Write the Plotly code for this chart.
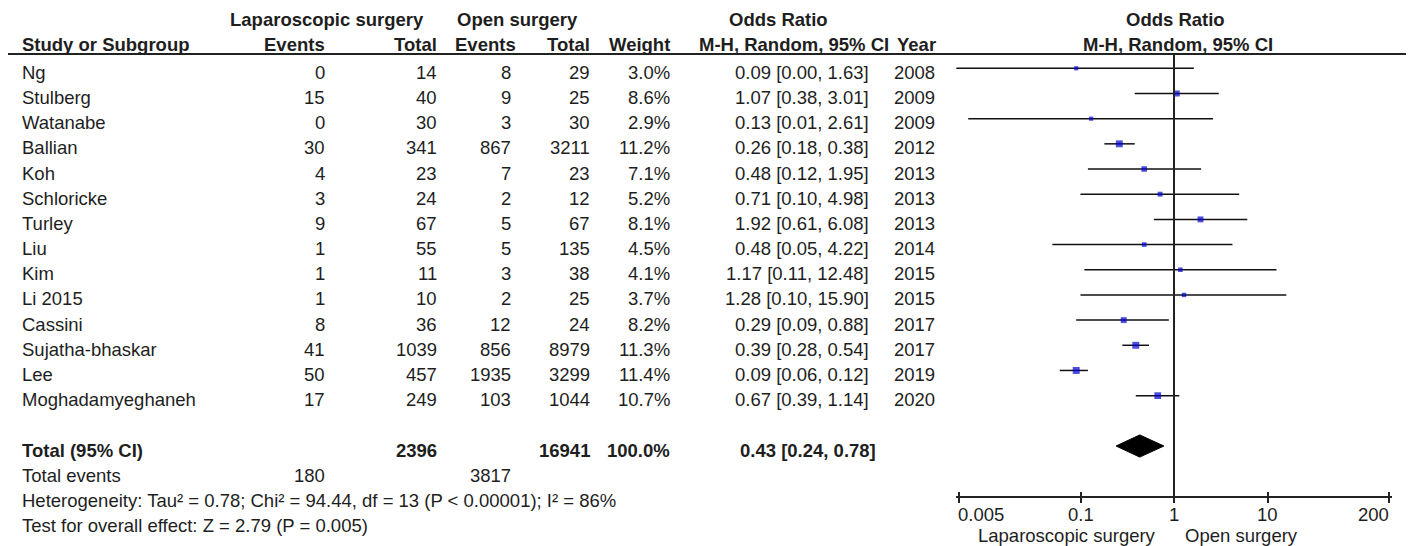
import math
import plotly.graph_objects as go

# ---------------- data ----------------
studies = ["Ng", "Stulberg", "Watanabe", "Ballian", "Koh", "Schloricke", "Turley", "Liu",
           "Kim", "Li 2015", "Cassini", "Sujatha-bhaskar", "Lee", "Moghadamyeghaneh"]
lap_events = [0, 15, 0, 30, 4, 3, 9, 1, 1, 1, 8, 41, 50, 17]
lap_total = [14, 40, 30, 341, 23, 24, 67, 55, 11, 10, 36, 1039, 457, 249]
open_events = [8, 9, 3, 867, 7, 2, 5, 5, 3, 2, 12, 856, 1935, 103]
open_total = [29, 25, 30, 3211, 23, 12, 67, 135, 38, 25, 24, 8979, 3299, 1044]
weight = [3.0, 8.6, 2.9, 11.2, 7.1, 5.2, 8.1, 4.5, 4.1, 3.7, 8.2, 11.3, 11.4, 10.7]
or_est = [0.09, 1.07, 0.13, 0.26, 0.48, 0.71, 1.92, 0.48, 1.17, 1.28, 0.29, 0.39, 0.09, 0.67]
ci_low = [0.0047, 0.38, 0.0063, 0.18, 0.12, 0.10, 0.61, 0.05, 0.11, 0.10, 0.09, 0.28, 0.06, 0.39]
ci_high = [1.63, 3.01, 2.61, 0.38, 1.95, 4.98, 6.08, 4.22, 12.48, 15.90, 0.88, 0.54, 0.12, 1.14]
years = [2008, 2009, 2009, 2012, 2013, 2013, 2013, 2014, 2015, 2015, 2017, 2017, 2019, 2020]

total_lap_total = 2396
total_open_total = 16941
total_weight = 100.0
total_or = 0.43
total_low = 0.24
total_high = 0.78
total_lap_events = 180
total_open_events = 3817
heterogeneity_text = "Heterogeneity: Tau² = 0.78; Chi² = 94.44, df = 13 (P < 0.00001); I² = 86%"
overall_text = "Test for overall effect: Z = 2.79 (P = 0.005)"

tick_vals = [0.005, 0.1, 1, 10, 200]
tick_text = ["0.005", "0.1", "1", "10", "200"]
favours_left = "Laparoscopic surgery"
favours_right = "Open surgery"

# ---------------- layout constants ----------------
W, H = 1414, 546
OFF = 8            # page body margin
FONT = "Liberation Sans, Arial, sans-serif"
TXT = "#1e1e1e"
FS = 18.5
ROW0 = 68.3        # screen y of first row
ROWH = 25.18       # row pitch
n = len(studies)
rows = list(range(n))
total_row = n + 1
events_row = n + 2
het_row = n + 3
test_row = n + 4


def srow(y):
    """screen pixel y -> row units"""
    return (y - ROW0) / ROWH


axis_row = srow(497)
header_line_row = srow(54)
y_top = srow(OFF)
y_bot = srow(OFF + H)


def px(x):
    return (x - OFF) / W


annotations = []


def add_text(text, x, row, anchor="right", bold=False, size=FS, yshift=-4):
    annotations.append(dict(
        text=f"<b>{text}</b>" if bold else text,
        x=px(x), xref="paper",
        y=row, yref="y", xanchor=anchor, yanchor="middle",
        showarrow=False, font=dict(family=FONT, size=size, color=TXT),
        yshift=yshift,
    ))


# headers
add_text("Laparoscopic surgery", 327, -2, "center", True, yshift=-2)
add_text("Open surgery", 517, -2, "center", True, yshift=-2)
add_text("Odds Ratio", 778, -2, "center", True, yshift=-2)
add_text("Odds Ratio", 1175, -2, "center", True, yshift=-2)
add_text("Study or Subgroup", 20, -1, "left", True, yshift=-1)
add_text("Events", 327, -1, "right", True, yshift=-1)
add_text("Total", 439, -1, "right", True, yshift=-1)
add_text("Events", 518, -1, "right", True, yshift=-1)
add_text("Total", 592, -1, "right", True, yshift=-1)
add_text("Weight", 672, -1, "right", True, yshift=-1)
add_text("M-H, Random, 95% CI", 697, -1, "left", True, yshift=-1)
add_text("Year", 938, -1, "right", True, yshift=-1)
add_text("M-H, Random, 95% CI", 1178, -1, "center", True, yshift=-1)

# study rows
for i in rows:
    add_text(studies[i], 20, i, "left")
    add_text(str(lap_events[i]), 327, i)
    add_text(str(lap_total[i]), 439, i)
    add_text(str(open_events[i]), 513, i)
    add_text(str(open_total[i]), 592, i)
    add_text(f"{weight[i]:.1f}%", 672, i)
    add_text(f"{or_est[i]:.2f} [{ci_low[i]:.2f}, {ci_high[i]:.2f}]", 871, i)
    add_text(str(years[i]), 937, i)

# totals
add_text("Total (95% CI)", 20, total_row, "left", True)
add_text(str(total_lap_total), 439, total_row, bold=True)
add_text(str(total_open_total), 592, total_row, bold=True)
add_text(f"{total_weight:.1f}%", 672, total_row, bold=True)
add_text(f"{total_or:.2f} [{total_low:.2f}, {total_high:.2f}]", 878, total_row, bold=True)
add_text("Total events", 20, events_row, "left")
add_text(str(total_lap_events), 327, events_row)
add_text(str(total_open_events), 513, events_row)
add_text(heterogeneity_text, 20, het_row, "left")
add_text(overall_text, 20, test_row, "left")

# tick labels (end labels aligned inward, as in the original); log axis -> log10 positions
tick_anchor = ["left", "center", "center", "center", "right"]
tick_shift = [-3, 0, 0, 0, 2]
for v, t, a, s in zip(tick_vals, tick_text, tick_anchor, tick_shift):
    annotations.append(dict(text=t, x=math.log10(v), xref="x", y=srow(514), yref="y", xanchor=a,
                            yanchor="middle", showarrow=False, xshift=s,
                            font=dict(family=FONT, size=FS, color=TXT)))

# favours labels
annotations.append(dict(text=favours_left, x=math.log10(1), xref="x", y=srow(535), yref="y",
                        xanchor="right", yanchor="middle", showarrow=False, xshift=-16,
                        font=dict(family=FONT, size=FS, color=TXT)))
annotations.append(dict(text=favours_right, x=math.log10(1), xref="x", y=srow(535), yref="y",
                        xanchor="left", yanchor="middle", showarrow=False, xshift=9,
                        font=dict(family=FONT, size=FS, color=TXT)))

fig = go.Figure()

# CI lines
xs, ys = [], []
for i in rows:
    xs += [ci_low[i], ci_high[i], None]
    ys += [i, i, None]
fig.add_trace(go.Scatter(x=xs, y=ys, mode="lines", line=dict(color="#111111", width=1.5),
                         hoverinfo="skip"))

# squares (size grows with weight)
fig.add_trace(go.Scatter(x=or_est, y=rows, mode="markers",
                         marker=dict(symbol="square", color="#0000d0",
                                     size=[3.2 + 0.33 * w for w in weight],
                                     line=dict(width=0))))

# diamond
dh = 0.44
fig.add_trace(go.Scatter(x=[total_low, total_or, total_high, total_or, total_low],
                         y=[total_row, total_row - dh, total_row, total_row + dh, total_row],
                         mode="lines", fill="toself", fillcolor="#000000",
                         line=dict(color="#000000", width=1)))

shapes = [
    dict(type="line", xref="x", yref="y", x0=1, x1=1, y0=header_line_row, y1=axis_row,
         line=dict(color="#222222", width=2)),
    dict(type="line", xref="paper", yref="y", x0=px(4), x1=px(1410), y0=header_line_row,
         y1=header_line_row, line=dict(color="#222222", width=2)),
]

ypos = 1 - (497 - OFF) / H
xr = [-2.3316, 2.3316]
dom = [(956 - OFF) / W, (1392 - OFF) / W]
fig.update_layout(
    template="none",
    width=W, height=H, margin=dict(l=0, r=0, t=0, b=0, pad=0, autoexpand=False),
    paper_bgcolor="white", plot_bgcolor="white", showlegend=False,
    annotations=annotations, shapes=shapes,
    xaxis=dict(type="log", range=xr, domain=dom, anchor="free", position=ypos,
               showline=True, linecolor="#222222", linewidth=2,
               ticks="outside", ticklen=5, tickwidth=2, tickcolor="#222222",
               tickvals=tick_vals, showticklabels=False, showgrid=False, zeroline=False,
               automargin=False, fixedrange=True),
    xaxis2=dict(type="log", range=xr, domain=dom, anchor="free", position=ypos,
                overlaying="x", showline=False, ticks="inside", ticklen=5, tickwidth=2,
                tickcolor="#222222", tickvals=tick_vals, showticklabels=False,
                showgrid=False, zeroline=False, automargin=False, fixedrange=True),
    yaxis=dict(range=[y_bot, y_top], domain=[0, 1], visible=False, automargin=False,
               fixedrange=True),
)
# invisible trace to activate the overlaid tick axis
fig.add_trace(go.Scatter(x=[1], y=[0], xaxis="x2", mode="markers",
                         marker=dict(opacity=0), hoverinfo="skip"))

fig.write_html("out.html")
